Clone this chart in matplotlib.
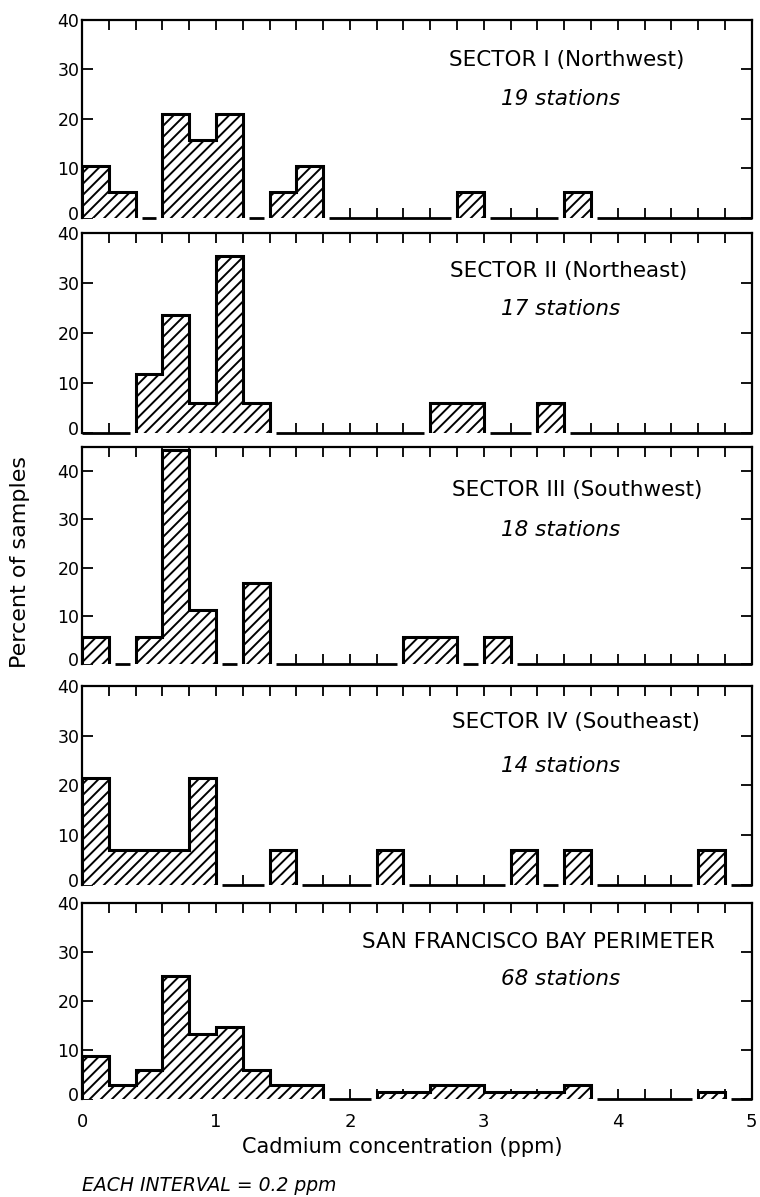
import matplotlib.pyplot as plt
import matplotlib.transforms as mtransforms
import numpy as np

plt.rcParams['font.family'] = ['DejaVu Sans']
plt.rcParams['hatch.linewidth'] = 1.4

# bin edges, 0.2 ppm intervals
edges = np.round(np.arange(0, 5.01, 0.2), 2)

# percent of samples per interval
sector1 = [10.5, 5.3, 0, 21.1, 15.8, 21.1, 0, 5.3, 10.5, 0, 0, 0, 0, 0, 5.3, 0, 0, 0, 5.3, 0, 0, 0, 0, 0, 0]
sector2 = [0, 0, 11.8, 23.5, 5.9, 35.3, 5.9, 0, 0, 0, 0, 0, 0, 5.9, 5.9, 0, 0, 5.9, 0, 0, 0, 0, 0, 0, 0]
sector3 = [5.6, 0, 5.6, 44.4, 11.1, 0, 16.7, 0, 0, 0, 0, 0, 5.6, 5.6, 0, 5.6, 0, 0, 0, 0, 0, 0, 0, 0, 0]
sector4 = [21.4, 7.1, 7.1, 7.1, 21.4, 0, 0, 7.1, 0, 0, 0, 7.1, 0, 0, 0, 0, 7.1, 0, 7.1, 0, 0, 0, 0, 7.1, 0]
bay = [8.8, 2.9, 5.9, 25.0, 13.2, 14.7, 5.9, 2.9, 2.9, 0, 0, 1.5, 1.5, 2.9, 2.9, 1.5, 1.5, 1.5, 2.9, 0, 0, 0, 0, 1.5, 0]

titles = ["SECTOR I (Northwest)", "SECTOR II (Northeast)", "SECTOR III (Southwest)",
          "SECTOR IV (Southeast)", "SAN FRANCISCO BAY PERIMETER"]
stations = ["19 stations", "17 stations", "18 stations", "14 stations", "68 stations"]
series = [sector1, sector2, sector3, sector4, bay]
ytops = [40, 40, 45, 40, 40]

# layout (figure fractions) and label positions (data units)
rects = [
    [0.108, 0.8179, 0.881, 0.1654],
    [0.108, 0.6383, 0.881, 0.1671],
    [0.108, 0.4453, 0.881, 0.1813],
    [0.108, 0.2607, 0.881, 0.1663],
    [0.108, 0.0819, 0.881, 0.1637],
]
title_pos = [(3.62, 31.9), (3.63, 32.3), (3.70, 36.0), (3.69, 32.7), (3.41, 32.0)]
station_pos = [(3.57, 24.0), (3.57, 24.8), (3.57, 27.8), (3.57, 24.0), (3.57, 24.4)]

fig = plt.figure(figsize=(7.6, 11.97), dpi=100)

for k, vals in enumerate(series):
    ax = fig.add_axes(rects[k])
    ax.set_xlim(0, 5)
    ax.set_ylim(0, ytops[k])
    ax.set_axisbelow(True)
    vals = np.array(vals)
    nz = vals > 0

    # upward ticks along the zero line (hidden under the blocks)
    ax.plot(edges[1:-1], np.zeros(len(edges) - 2), linestyle='none', marker=2,
            markersize=7, markeredgewidth=1.3, color='black', zorder=0.6, clip_on=False)

    # hatched step blocks for each run of non-empty intervals
    i = 0
    n = len(vals)
    while i < n:
        j = i
        while j < n and nz[j] == nz[i]:
            j += 1
        if nz[i]:
            ax.stairs(vals[i:j], edges[i:j + 1], fill=True, facecolor='white',
                      edgecolor='black', hatch='///', linewidth=2.2, zorder=2)
        else:
            gap = 0.045
            x0 = edges[i] + (gap if i > 0 else 0)
            x1 = edges[j] - (gap if j < n else 0)
            ax.hlines(0, x0, x1, colors='black', linewidth=2.0, zorder=2, clip_on=False)
        i = j

    ax.spines['bottom'].set_visible(False)
    for s in ['top', 'left', 'right']:
        ax.spines[s].set_linewidth(1.6)

    ax.set_xticks(edges)
    if k == len(series) - 1:
        ax.set_xticklabels([str(int(e)) if float(e).is_integer() else '' for e in edges])
    else:
        ax.set_xticklabels([])
    ax.tick_params(axis='x', direction='in', top=True, bottom=False, length=7, width=1.3,
                   labelsize=13, pad=10)
    ax.set_yticks([0, 10, 20, 30, 40])
    ax.tick_params(axis='y', direction='in', left=True, right=True, length=8, width=1.3,
                   labelsize=12.5, pad=2)
    # the "0" label sits a little above the zero line, as in the original
    zero_lab = ax.get_yticklabels()[0]
    zero_lab.set_transform(zero_lab.get_transform() +
                           mtransforms.ScaledTranslation(0, 3.5 / 72, fig.dpi_scale_trans))

    ax.text(title_pos[k][0], title_pos[k][1], titles[k], ha='center', va='center', fontsize=15.5)
    ax.text(station_pos[k][0], station_pos[k][1], stations[k], ha='center', va='center',
            fontsize=15.5, style='italic')

fig.text(0.026, 0.5305, 'Percent of samples', rotation=90, ha='center', va='center', fontsize=16)
fig.text(0.529, 0.0418, 'Cadmium concentration (ppm)', ha='center', va='center', fontsize=15)
fig.text(0.108, 0.0092, 'EACH INTERVAL = 0.2 ppm', ha='left', va='center', fontsize=13.5,
         style='italic')

fig.savefig('out.png', dpi=100)
